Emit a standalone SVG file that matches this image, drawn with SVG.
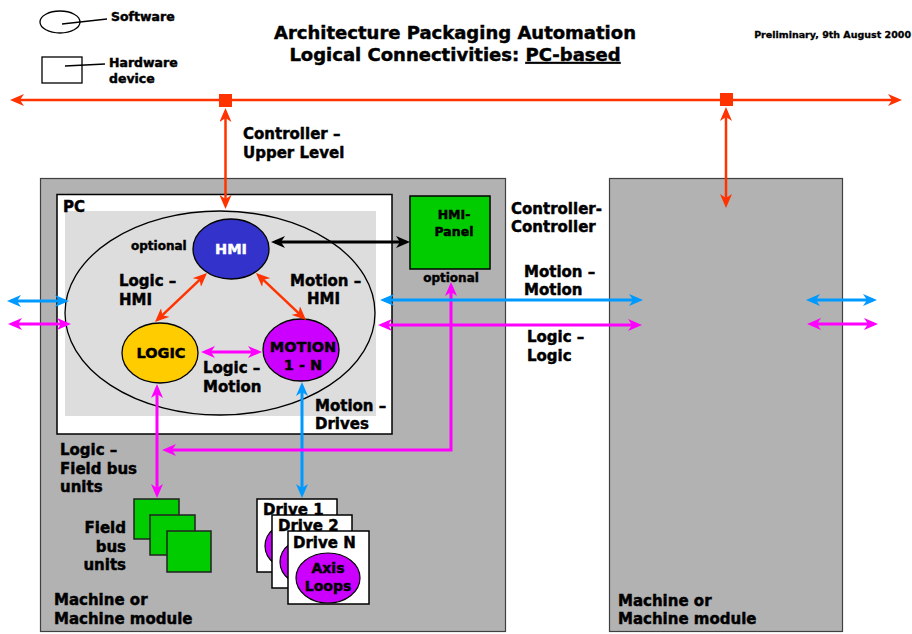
<svg xmlns="http://www.w3.org/2000/svg" width="912" height="634" viewBox="0 0 912 634">
  <style>
    text { font-family: "DejaVu Sans", "Liberation Sans", sans-serif; font-weight: bold; fill: #000; stroke: #000; stroke-width: 0.45; }
    .lbl { font-size: 15px; }
    .sm { font-size: 12px; }
    .mid { text-anchor: middle; }
    .end { text-anchor: end; }
    .machine { fill: #b2b2b2; stroke: #404040; stroke-width: 1.2; }
    .red { stroke: #ff3300; stroke-width: 2.5; fill: none; }
    .blue { stroke: #0099ff; stroke-width: 3; fill: none; }
    .mag { stroke: #ff00ff; stroke-width: 3; fill: none; }
    .blk { stroke: #000; stroke-width: 3; fill: none; }
    .fbu { fill: #00cc00; stroke: #222; stroke-width: 1.5; }
    .drv { fill: #fff; stroke: #000; stroke-width: 1.5; }
    .axis { fill: #cc00ff; stroke: #000; stroke-width: 1.2; }
  </style>
  <defs>
    <marker id="aRed" viewBox="0 0 14 12" refX="10" refY="6" markerWidth="14" markerHeight="12" markerUnits="userSpaceOnUse" orient="auto-start-reverse">
      <path d="M0,0 L14,6 L0,12 L4,6 Z" fill="#ff3300"/>
    </marker>
    <marker id="aBlue" viewBox="0 0 14 12" refX="10" refY="6" markerWidth="14" markerHeight="12" markerUnits="userSpaceOnUse" orient="auto-start-reverse">
      <path d="M0,0 L14,6 L0,12 L4,6 Z" fill="#0099ff"/>
    </marker>
    <marker id="aMag" viewBox="0 0 14 12" refX="10" refY="6" markerWidth="14" markerHeight="12" markerUnits="userSpaceOnUse" orient="auto-start-reverse">
      <path d="M0,0 L14,6 L0,12 L4,6 Z" fill="#ff00ff"/>
    </marker>
    <marker id="aBlk" viewBox="0 0 14 12" refX="10" refY="6" markerWidth="14" markerHeight="12" markerUnits="userSpaceOnUse" orient="auto-start-reverse">
      <path d="M0,0 L14,6 L0,12 L4,6 Z" fill="#000"/>
    </marker>
  </defs>

  <rect width="912" height="634" fill="#fff"/>

  <!-- legend -->
  <g id="legend">
    <ellipse cx="60" cy="22" rx="20" ry="11" fill="none" stroke="#000" stroke-width="1.3"/>
    <line x1="62" y1="24" x2="107" y2="19" stroke="#000" stroke-width="1.3"/>
    <text x="111" y="21" style="font-size:12.5px">Software</text>
    <rect x="42" y="57" width="40" height="26" fill="none" stroke="#000" stroke-width="1.3"/>
    <line x1="65" y1="66" x2="105" y2="64" stroke="#000" stroke-width="1.3"/>
    <text x="109" y="67" style="font-size:12.5px">Hardware</text>
    <text x="109" y="83" style="font-size:12.5px">device</text>
  </g>

  <!-- title -->
  <g id="title">
    <text x="455" y="39" class="mid" style="font-size:18px">Architecture Packaging Automation</text>
    <text x="455" y="61" class="mid" style="font-size:18px">Logical Connectivities: <tspan text-decoration="underline">PC-based</tspan></text>
    <text x="911" y="38" class="end" style="font-size:9.5px;stroke-width:0.3">Preliminary, 9th August 2000</text>
  </g>

  <!-- machine modules -->
  <g id="machine-left">
    <rect class="machine" x="40.5" y="178.5" width="465" height="453"/>
    <text x="54" y="605" class="lbl">Machine or</text>
    <text x="54" y="624" class="lbl">Machine module</text>
  </g>
  <g id="machine-right">
    <rect class="machine" x="609.5" y="178.5" width="233" height="453"/>
    <text x="618" y="606" class="lbl">Machine or</text>
    <text x="618" y="624" class="lbl">Machine module</text>
  </g>

  <!-- PC -->
  <g id="pc">
    <rect x="57" y="194.5" width="335" height="239.5" fill="#fff" stroke="#000" stroke-width="1.5"/>
    <rect x="65" y="211" width="311" height="205" fill="#dddddd"/>
    <ellipse cx="220" cy="313" rx="155" ry="102" fill="none" stroke="#000" stroke-width="1.3"/>
    <text x="63" y="212" class="lbl">PC</text>
  </g>

  <g id="hmi">
    <ellipse cx="231" cy="249" rx="38" ry="30" fill="#3333cc" stroke="#000" stroke-width="1.3"/>
    <text x="231" y="254" class="mid" style="font-size:14.5px;fill:#fff;stroke:#fff">HMI</text>
    <text x="131" y="250" class="sm">optional</text>
  </g>

  <g id="logic">
    <ellipse cx="160" cy="353" rx="38" ry="30" fill="#ffcc00" stroke="#000" stroke-width="1.3"/>
    <text x="161" y="358" class="mid" style="font-size:14.5px">LOGIC</text>
  </g>

  <g id="motion">
    <ellipse cx="301" cy="350" rx="38" ry="31" fill="#cc00ff" stroke="#000" stroke-width="1.3"/>
    <text x="303" y="352" class="mid" style="font-size:14.5px">MOTION</text>
    <text x="303" y="370" class="mid" style="font-size:14.5px">1 - N</text>
  </g>

  <g id="hmi-panel">
    <rect x="410" y="196" width="80" height="73" fill="#00cc00" stroke="#000" stroke-width="1.5"/>
    <text x="454" y="219" class="mid" style="font-size:12.5px">HMI-</text>
    <text x="454" y="236" class="mid" style="font-size:12.5px">Panel</text>
    <text x="451" y="282" class="mid sm">optional</text>
  </g>

  <!-- field bus units -->
  <g id="field-bus-units">
    <rect class="fbu" x="134" y="499" width="45" height="40"/>
    <rect class="fbu" x="150" y="515" width="45" height="40"/>
    <rect class="fbu" x="167" y="531" width="44" height="41"/>
    <text x="126" y="533" class="lbl end">Field</text>
    <text x="126" y="552" class="lbl end">bus</text>
    <text x="126" y="570" class="lbl end">units</text>
  </g>

  <!-- drives -->
  <g id="drive-1">
    <rect class="drv" x="257" y="499" width="80" height="73"/>
    <text x="263" y="515" class="lbl">Drive 1</text>
    <ellipse class="axis" cx="297" cy="546" rx="32" ry="25"/>
  </g>
  <g id="drive-2">
    <rect class="drv" x="272" y="515" width="80" height="73"/>
    <text x="278" y="531" class="lbl">Drive 2</text>
    <ellipse class="axis" cx="312" cy="562" rx="32" ry="25"/>
  </g>
  <g id="drive-n">
    <rect class="drv" x="288" y="531" width="81" height="73"/>
    <text x="293" y="548" class="lbl">Drive N</text>
    <ellipse class="axis" cx="328" cy="578" rx="32" ry="25"/>
    <text x="328" y="573" class="mid" style="font-size:14px">Axis</text>
    <text x="328" y="591" class="mid" style="font-size:14px">Loops</text>
  </g>

  <!-- connectors -->
  <g id="connectors">
    <line class="red" x1="14" y1="100" x2="898" y2="100" marker-start="url(#aRed)" marker-end="url(#aRed)"/>
    <line class="red" x1="225.5" y1="112" x2="225.5" y2="205" marker-start="url(#aRed)" marker-end="url(#aRed)"/>
    <line class="red" x1="726" y1="111" x2="726" y2="204" marker-start="url(#aRed)" marker-end="url(#aRed)"/>
    <rect x="219" y="94" width="13" height="13" fill="#ff3300"/>
    <rect x="720" y="93" width="13" height="13" fill="#ff3300"/>

    <line class="blk" x1="275" y1="242" x2="406" y2="242" marker-start="url(#aBlk)" marker-end="url(#aBlk)"/>

    <line class="red" x1="157.9" y1="319.3" x2="204.1" y2="275.7" marker-start="url(#aRed)" marker-end="url(#aRed)"/>
    <line class="red" x1="258.9" y1="275.7" x2="303.1" y2="317.3" marker-start="url(#aRed)" marker-end="url(#aRed)"/>

    <line class="mag" x1="205" y1="352" x2="258" y2="352" marker-start="url(#aMag)" marker-end="url(#aMag)"/>

    <line class="blue" x1="302" y1="386" x2="302" y2="494" marker-start="url(#aBlue)" marker-end="url(#aBlue)"/>
    <line class="mag" x1="157" y1="388" x2="157" y2="494" marker-start="url(#aMag)" marker-end="url(#aMag)"/>
    <polyline class="mag" points="451,286 451,450 166,450" marker-start="url(#aMag)" marker-end="url(#aMag)"/>

    <line class="blue" x1="384" y1="300" x2="639" y2="300" marker-start="url(#aBlue)" marker-end="url(#aBlue)"/>
    <line class="mag" x1="382" y1="325" x2="638" y2="325" marker-start="url(#aMag)" marker-end="url(#aMag)"/>

    <line class="blue" x1="11" y1="301" x2="65" y2="301" marker-start="url(#aBlue)" marker-end="url(#aBlue)"/>
    <line class="mag" x1="12" y1="324" x2="67" y2="324" marker-start="url(#aMag)" marker-end="url(#aMag)"/>

    <line class="blue" x1="810" y1="300" x2="873" y2="300" marker-start="url(#aBlue)" marker-end="url(#aBlue)"/>
    <line class="mag" x1="811" y1="324" x2="874" y2="324" marker-start="url(#aMag)" marker-end="url(#aMag)"/>
  </g>

  <!-- connector labels -->
  <g id="labels">
    <text x="243" y="139" class="lbl">Controller –</text>
    <text x="243" y="158" class="lbl">Upper Level</text>
    <text x="119" y="286" class="lbl">Logic –</text>
    <text x="119" y="305" class="lbl">HMI</text>
    <text x="290" y="286" class="lbl">Motion –</text>
    <text x="307" y="304" class="lbl">HMI</text>
    <text x="203" y="373" class="lbl">Logic –</text>
    <text x="203" y="392" class="lbl">Motion</text>
    <text x="315" y="411" class="lbl">Motion –</text>
    <text x="315" y="429" class="lbl">Drives</text>
    <text x="511" y="214" class="lbl">Controller-</text>
    <text x="511" y="232" class="lbl">Controller</text>
    <text x="524" y="277" class="lbl">Motion –</text>
    <text x="524" y="295" class="lbl">Motion</text>
    <text x="527" y="342" class="lbl">Logic –</text>
    <text x="527" y="361" class="lbl">Logic</text>
    <text x="60" y="455" class="lbl">Logic –</text>
    <text x="60" y="474" class="lbl">Field bus</text>
    <text x="60" y="492" class="lbl">units</text>
  </g>
</svg>
